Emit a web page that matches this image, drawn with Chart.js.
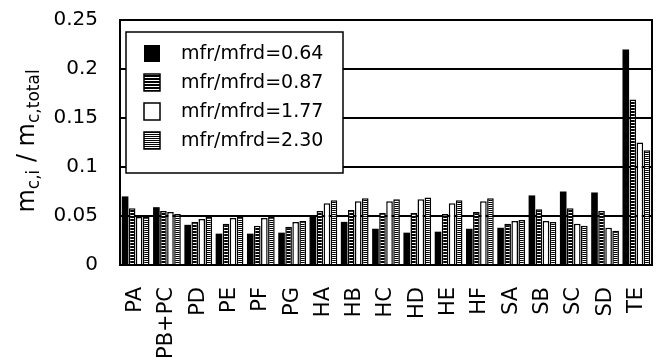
<!DOCTYPE html>
<html>
<head>
<meta charset="utf-8">
<script src="https://cdn.jsdelivr.net/npm/chart.js@4/dist/chart.umd.min.js"></script>
<style>
  html, body { margin: 0; padding: 0; background: #fff; }
  #wrap { width: 658px; height: 364px; }
</style>
</head>
<body>
<div id="wrap"><canvas id="MyChart" width="658" height="364"></canvas></div>
<script>
const categories = ['PA', 'PB+PC', 'PD', 'PE', 'PF', 'PG', 'HA', 'HB', 'HC', 'HD', 'HE', 'HF', 'SA', 'SB', 'SC', 'SD', 'TE'];
const seriesLabels = ['mfr/mfrd=0.64', 'mfr/mfrd=0.87', 'mfr/mfrd=1.77', 'mfr/mfrd=2.30'];
const s064 = [0.070, 0.059, 0.041, 0.032, 0.032, 0.033, 0.050, 0.044, 0.037, 0.033, 0.034, 0.037, 0.038, 0.071, 0.075, 0.074, 0.220];
const s087 = [0.058, 0.055, 0.044, 0.042, 0.040, 0.039, 0.055, 0.056, 0.053, 0.053, 0.052, 0.054, 0.042, 0.057, 0.058, 0.055, 0.169];
const s177 = [0.049, 0.054, 0.047, 0.048, 0.048, 0.044, 0.063, 0.065, 0.065, 0.067, 0.063, 0.065, 0.045, 0.045, 0.042, 0.038, 0.125];
const s230 = [0.049, 0.052, 0.049, 0.049, 0.049, 0.045, 0.066, 0.068, 0.067, 0.069, 0.066, 0.068, 0.046, 0.044, 0.040, 0.035, 0.117];
const yTicks = [0, 0.05, 0.1, 0.15, 0.2, 0.25];

const FONT = '"DejaVu Sans", Verdana, sans-serif';

// striped fill patterns
function stripes(rows) {
    let c = document.createElement('canvas');
    c.width = 4;
    c.height = rows.length;
    let x = c.getContext('2d');
    rows.forEach((col, i) => {
        x.fillStyle = col;
        x.fillRect(0, i, 4, 1);
    });
    return x.createPattern(c, 'repeat');
}
const pat087 = stripes(['#000', '#000', '#fff']);
const pat230 = stripes(['#000', '#fff']);

const fills = ['#000', pat087, '#fff', pat230];
const seriesValues = [s064, s087, s177, s230];

const datasets = seriesValues.map((vals, i) => ({
    label: seriesLabels[i],
    data: vals,
    backgroundColor: fills[i],
    borderColor: '#000',
    borderWidth: i === 0 ? 0 : 1.5,
    barPercentage: 0.94,
    categoryPercentage: 0.9,
}));

// axis title with subscripts, frame and boxed legend
const decor = {
    id: 'decor',
    beforeDatasetsDraw(chart) {
        const ctx = chart.ctx;
        const a = chart.chartArea;
        ctx.save();
        ctx.strokeStyle = '#000';
        ctx.lineWidth = 2;
        ctx.strokeRect(a.left, a.top, a.right - a.left, a.bottom - a.top);
        ctx.restore();
    },
    afterDatasetsDraw(chart) {
        const ctx = chart.ctx;
        const a = chart.chartArea;
        // legend
        const bx = a.left + 6, by = a.top + 12, bw = 217, bh = 141;
        ctx.save();
        ctx.fillStyle = '#fff';
        ctx.fillRect(bx, by, bw, bh);
        ctx.strokeStyle = '#000';
        ctx.lineWidth = 1.5;
        ctx.strokeRect(bx, by, bw, bh);
        ctx.font = '19px ' + FONT;
        ctx.textBaseline = 'middle';
        chart.data.datasets.forEach((ds, i) => {
            const cy = by + 21 + i * 29;
            ctx.fillStyle = ds.backgroundColor;
            ctx.fillRect(bx + 18, cy - 8, 16, 17);
            if (i > 0) {
                ctx.strokeStyle = '#000';
                ctx.lineWidth = 1.5;
                ctx.strokeRect(bx + 18, cy - 8, 16, 17);
            }
            ctx.fillStyle = '#000';
            ctx.fillText(ds.label, bx + 55, cy + 1);
        });
        ctx.restore();

        // y title
        const parts = [['m', 24], ['c,i', 17], [' / m', 24], ['c,total', 17]];
        ctx.save();
        ctx.translate(34, 141);
        ctx.rotate(-Math.PI / 2);
        let total = 0;
        parts.forEach(p => {
            ctx.font = p[1] + 'px ' + FONT;
            total += ctx.measureText(p[0]).width;
        });
        let x = -total / 2;
        ctx.fillStyle = '#000';
        ctx.textBaseline = 'alphabetic';
        parts.forEach(p => {
            ctx.font = p[1] + 'px ' + FONT;
            ctx.fillText(p[0], x, p[1] < 24 ? 5 : 0);
            x += ctx.measureText(p[0]).width;
        });
        ctx.restore();
    }
};

const config = {
    type: 'bar',
    data: { labels: categories, datasets: datasets },
    options: {
        responsive: false,
        animation: false,
        layout: { padding: { left: 0, right: 6, top: 20, bottom: 0 } },
        plugins: {
            legend: { display: false },
            tooltip: { enabled: false }
        },
        scales: {
            x: {
                grid: { display: false, drawTicks: false },
                border: { display: false },
                ticks: {
                    color: '#000',
                    font: { family: FONT, size: 21 },
                    minRotation: 90,
                    maxRotation: 90,
                    padding: 22,
                    autoSkip: false
                },
                afterFit(axis) {
                    axis.height = 99;
                    axis.paddingLeft = 0;
                    axis.paddingRight = 0;
                }
            },
            y: {
                min: 0,
                max: 0.25,
                afterBuildTicks(axis) { axis.ticks = yTicks.map(v => ({ value: v })); },
                grid: {
                    color: ctx => (ctx.tick && ctx.tick.value > 0 && ctx.tick.value < 0.25) ? '#000' : 'rgba(0,0,0,0)',
                    lineWidth: 2,
                    drawTicks: false
                },
                border: { display: false },
                ticks: {
                    color: '#000',
                    font: { family: FONT, size: 20 },
                    padding: 22,
                    callback: v => String(v)
                },
                afterFit(axis) {
                    axis.width = 120;
                    axis.paddingTop = 0;
                    axis.paddingBottom = 0;
                }
            }
        }
    },
    plugins: [decor]
};

const myChart = new Chart(document.getElementById('MyChart'), config);
</script>
</body>
</html>
